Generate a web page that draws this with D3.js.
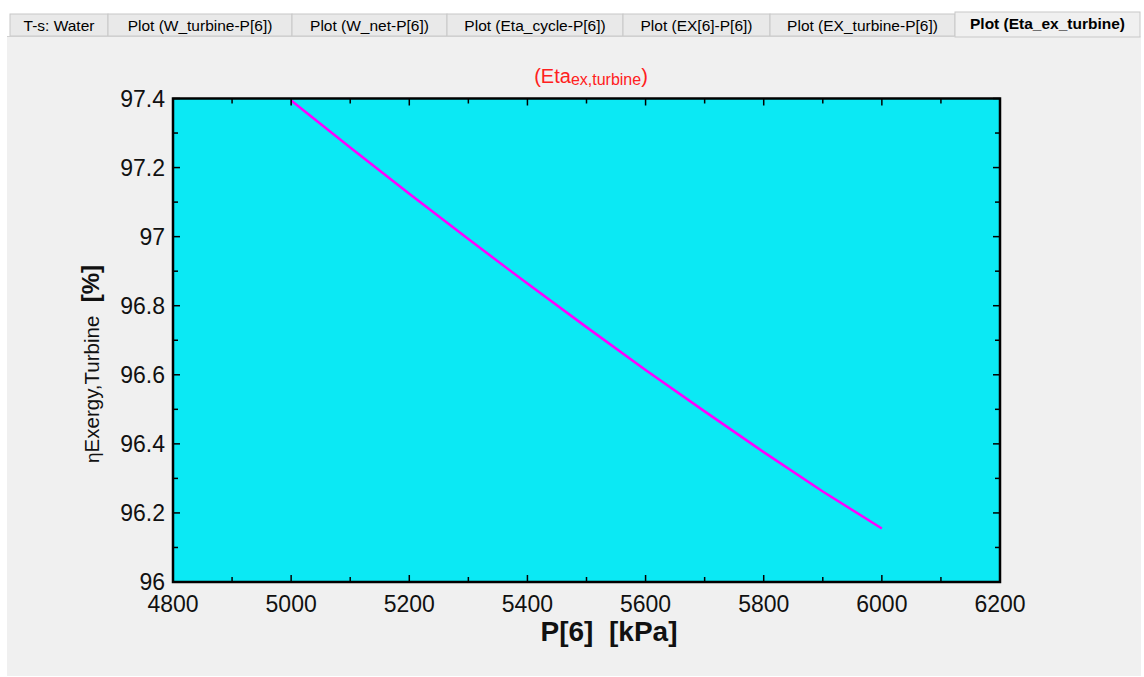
<!DOCTYPE html>
<html>
<head>
<meta charset="utf-8">
<script src="https://cdn.jsdelivr.net/npm/d3@7"></script>
<style>
  body { margin: 0; background: #ffffff; font-family: Arial, "Liberation Sans", sans-serif; }
  svg text { white-space: pre; }
</style>
</head>
<body>
<div id="canvas"></div>
<script>
"use strict"

/* drawing size */
let svgWidth = 1144;
let svgHeight = 677;

/* plot box */
let plotLeft = 173;
let plotRight = 1000;
let plotTop = 98.5;
let plotBottom = 582;

/* tab captions */
let tabLabels = ["T-s: Water", "Plot (W_turbine-P[6])", "Plot (W_net-P[6])",
    "Plot (Eta_cycle-P[6])", "Plot (EX[6]-P[6])", "Plot (EX_turbine-P[6])",
    "Plot (Eta_ex_turbine)"];
let tabEdges = [10, 108, 292, 447, 623, 770, 955, 1140];

/* data: P[6] (kPa) and exergetic turbine efficiency (%) */
let pressure = [5000, 5100, 5200, 5300, 5400, 5500, 5600, 5700, 5800, 5900, 6000];
let etaExTurbine = [97.394, 97.258, 97.124, 96.993, 96.864, 96.738, 96.614, 96.494, 96.376, 96.262, 96.155];

/* axis ticks */
let xTicks = [4800, 5000, 5200, 5400, 5600, 5800, 6000, 6200];
let yTicks = [96, 96.2, 96.4, 96.6, 96.8, 97, 97.2, 97.4];

let dataset = pressure.map((p, i) => ({ p: p, eta: etaExTurbine[i] }));

let svg = d3.select("#canvas")
    .append("svg")
    .attr("width", svgWidth)
    .attr("height", svgHeight);

/* panel background */
svg.append("rect")
    .attr("x", 7)
    .attr("y", 36)
    .attr("width", 1134)
    .attr("height", 640)
    .attr("fill", "#f0f0f0");

/* tabs */
tabLabels.forEach(function(label, i) {
    let active = i === tabLabels.length - 1;
    let x0 = tabEdges[i];
    let x1 = tabEdges[i + 1];
    svg.append("rect")
        .attr("x", x0)
        .attr("y", active ? 12 : 14)
        .attr("width", x1 - x0)
        .attr("height", active ? 25 : 22)
        .attr("fill", active ? "#f0f0f0" : "#e9e9e9")
        .attr("stroke", "#c8c8c8")
        .attr("stroke-width", 1);
    svg.append("text")
        .attr("x", (x0 + x1) / 2)
        .attr("y", active ? 29 : 31)
        .attr("text-anchor", "middle")
        .attr("font-size", "15.5px")
        .attr("font-weight", active ? "bold" : "normal")
        .attr("fill", "#000")
        .text(label);
});
svg.append("line")
    .attr("x1", 7).attr("x2", tabEdges[tabEdges.length - 2])
    .attr("y1", 36.5).attr("y2", 36.5)
    .attr("stroke", "#d0d0d0");

/* scales */
let xScale = d3.scaleLinear()
    .domain([4800, 6200])
    .range([plotLeft, plotRight]);

let yScale = d3.scaleLinear()
    .domain([96, 97.4])
    .range([plotBottom, plotTop]);

/* plot area */
svg.append("rect")
    .attr("x", plotLeft)
    .attr("y", plotTop)
    .attr("width", plotRight - plotLeft)
    .attr("height", plotBottom - plotTop)
    .attr("fill", "#0be9f4");

/* line */
let line = d3.line()
    .x(d => xScale(d.p))
    .y(d => yScale(d.eta));

svg.append("path")
    .datum(dataset)
    .attr("d", line)
    .attr("fill", "none")
    .attr("stroke", "#ff00ff")
    .attr("stroke-width", 2.5);

/* ticks: major inward on all sides, minor halfway */
let xMinor = d3.range(4900, 6200, 200);
let yMinor = d3.range(96.1, 97.4, 0.2);

let tickGroup = svg.append("g").attr("stroke", "black").attr("stroke-width", 1.5);

xTicks.concat(xMinor).forEach(function(v) {
    let len = xTicks.includes(v) ? 7 : 5;
    tickGroup.append("line")
        .attr("x1", xScale(v)).attr("x2", xScale(v))
        .attr("y1", plotBottom).attr("y2", plotBottom - len);
    tickGroup.append("line")
        .attr("x1", xScale(v)).attr("x2", xScale(v))
        .attr("y1", plotTop).attr("y2", plotTop + len);
});

yTicks.concat(yMinor).forEach(function(v) {
    let len = yTicks.includes(v) ? 7 : 5;
    tickGroup.append("line")
        .attr("x1", plotLeft).attr("x2", plotLeft + len)
        .attr("y1", yScale(v)).attr("y2", yScale(v));
    tickGroup.append("line")
        .attr("x1", plotRight).attr("x2", plotRight - len)
        .attr("y1", yScale(v)).attr("y2", yScale(v));
});

/* frame */
svg.append("rect")
    .attr("x", plotLeft)
    .attr("y", plotTop)
    .attr("width", plotRight - plotLeft)
    .attr("height", plotBottom - plotTop)
    .attr("fill", "none")
    .attr("stroke", "black")
    .attr("stroke-width", 2.5);

/* tick labels */
svg.selectAll(".xlabel")
    .data(xTicks)
    .join("text")
    .attr("class", "xlabel")
    .attr("x", d => xScale(d))
    .attr("y", 612)
    .attr("text-anchor", "middle")
    .attr("font-size", "23px")
    .attr("fill", "#111")
    .text(d => d);

svg.selectAll(".ylabel")
    .data(yTicks)
    .join("text")
    .attr("class", "ylabel")
    .attr("x", 165)
    .attr("y", d => yScale(d) + 8)
    .attr("text-anchor", "end")
    .attr("font-size", "23px")
    .attr("fill", "#111")
    .text(d => d3.format("")(+d.toFixed(1)));

/* title */
let title = svg.append("text")
    .attr("x", 591)
    .attr("y", 83)
    .attr("text-anchor", "middle")
    .attr("font-size", "20px")
    .attr("fill", "#ff2020");
title.append("tspan").text("(Eta");
title.append("tspan").attr("font-size", "16px").attr("dy", 2).text("ex,turbine");
title.append("tspan").attr("dy", -2).text(")");

/* axis labels */
svg.append("text")
    .attr("x", 609)
    .attr("y", 641)
    .attr("text-anchor", "middle")
    .attr("font-size", "28px")
    .attr("font-weight", "bold")
    .attr("fill", "#111")
    .text("P[6]  [kPa]");

let yLabel = svg.append("text")
    .attr("transform", "translate(99,364) rotate(-90)")
    .attr("text-anchor", "middle")
    .attr("fill", "#111");
yLabel.append("tspan").attr("font-size", "19px").text("η");
yLabel.append("tspan").attr("font-size", "20.5px").text("Exergy,Turbine");
yLabel.append("tspan").attr("font-size", "24px").attr("font-weight", "bold").text("  [%]");
</script>
</body>
</html>
